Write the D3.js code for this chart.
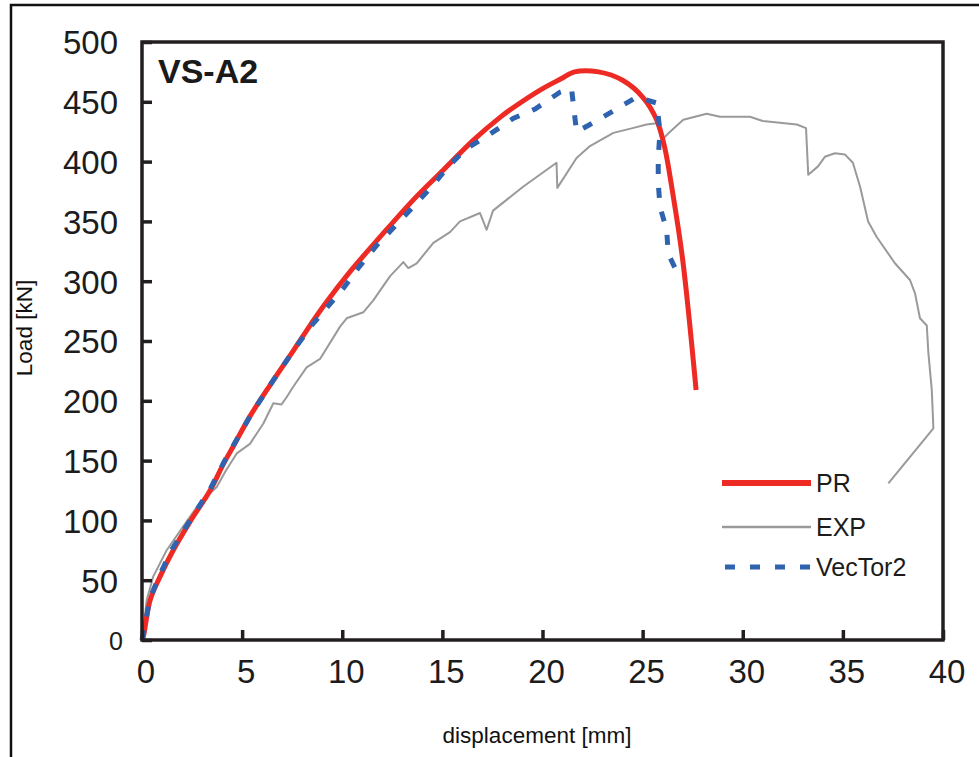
<!DOCTYPE html>
<html>
<head>
<meta charset="utf-8">
<script src="https://cdn.jsdelivr.net/npm/d3@7/dist/d3.min.js"></script>
<style>
  html, body { margin: 0; padding: 0; background: #fff; }
  svg { display: block; font-family: "Liberation Sans", Arial, sans-serif; }
</style>
</head>
<body>
<svg id="chart" width="979" height="757"></svg>
<script>
// ---- data ----
const prDisp = [0, 0.07, 0.4, 0.9, 1.56, 2.4, 3.4, 4.06, 4.56, 5.39, 6.39, 7.56, 8.47, 9.14, 10.39, 11.89, 13.55, 15.05, 16.55, 17.88, 18.53, 19.9, 20.9, 21.6, 22.8, 24.0, 25.0, 25.7, 26.1, 26.5, 27.0, 27.67];
const prLoad = [0, 3, 33, 53, 75, 99, 125, 147, 162, 187, 213, 242, 265, 281, 308, 337, 368, 393, 418, 437, 445, 460, 469, 475, 475, 468, 454, 435, 412, 374, 318, 209];

const expDisp = [0, 0.07, 0.23, 0.56, 1.23, 2.06, 2.73, 3.23, 3.73, 4.2, 4.73, 5.39, 6.06, 6.56, 6.97, 7.22, 7.56, 8.22, 8.89, 9.89, 10.22, 11.05, 11.55, 12.38, 13.05, 13.3, 13.72, 14.55, 15.38, 15.88, 16.88, 17.21, 17.53, 19.03, 20.7, 20.74, 21.7, 22.37, 23.54, 24.5, 25.2, 25.7, 25.95, 26.37, 27.03, 28.2, 28.86, 30.36, 31.0, 32.7, 33.16, 33.27, 33.76, 34.1, 34.6, 35.1, 35.5, 35.86, 36.26, 36.69, 37.6, 38.35, 38.6, 38.85, 39.19, 39.27, 39.44, 39.52, 37.27];
const expLoad = [0, 8, 33, 53, 75, 95, 111, 120, 128, 142, 156, 164, 181, 198, 197, 203, 212, 228, 235, 262, 269, 274, 284, 304, 316, 311, 315, 332, 341, 350, 357, 343, 359, 379, 399, 378, 403, 413, 424, 428, 431, 432, 418, 425, 435, 440, 437.5, 437.5, 434, 431, 428, 389, 396, 404, 407, 406, 399, 379, 350, 337, 315, 301, 290, 269, 263, 240, 209, 177, 131];

const vtDisp = [0, 0.1, 0.4, 0.9, 1.5, 2.4, 3.4, 4.1, 5.39, 6.39, 7.56, 8.47, 9.14, 10.05, 10.8, 11.72, 12.63, 13.47, 14.47, 15.3, 16.21, 17.29, 18.53, 19.63, 20.87, 21.45, 21.7, 22.37, 23.6, 24.7, 25.7, 25.87, 25.78, 25.78, 25.87, 26.2, 26.28, 26.87];
const vtLoad = [0, 8, 35, 55, 76, 100, 126, 149, 187, 213, 242, 263, 276, 294, 311, 330, 346, 361, 379, 396, 411, 422, 436, 444, 458, 461, 425, 431, 443, 454, 449, 425, 404, 382, 362, 343, 323, 302];

const xTicks = [0, 5, 10, 15, 20, 25, 30, 35, 40];
const yTicks = [0, 50, 100, 150, 200, 250, 300, 350, 400, 450, 500];
const seriesNames = ["PR", "EXP", "VecTor2"];
const chartTitle = "VS-A2";
const xTitle = "displacement [mm]";
const yTitle = "Load [kN]";

// ---- layout ----
const svg = d3.select("#chart");
const L = 142, R = 943, T = 42, B = 640;
const x = d3.scaleLinear().domain([0, 40]).range([L, R]);
const y = d3.scaleLinear().domain([0, 500]).range([B, T]);
const axisColor = "#231f20";
const textColor = "#1c1c1c";

// outer frame (clipped by the page at right/bottom)
svg.append("rect").attr("x", 11).attr("y", 5).attr("width", 1100).attr("height", 1100)
  .attr("fill", "none").attr("stroke", "#111").attr("stroke-width", 2.5);

// series
const colors = { PR: "#ee2a24", EXP: "#9a9a9a", VecTor2: "#2f63b0" };
const zip = (a, b) => a.map((v, i) => [v, b[i]]);
const line = d3.line().x(d => x(d[0])).y(d => y(d[1]));
const smooth = d3.line().x(d => x(d[0])).y(d => y(d[1])).curve(d3.curveCatmullRom.alpha(0.5));

svg.append("path").datum(zip(expDisp, expLoad)).attr("d", line)
  .attr("fill", "none").attr("stroke", colors.EXP).attr("stroke-width", 2).attr("stroke-linejoin", "round");
svg.append("path").datum(zip(prDisp, prLoad)).attr("d", smooth)
  .attr("fill", "none").attr("stroke", colors.PR).attr("stroke-width", 5).attr("stroke-linejoin", "round");
svg.append("path").datum(zip(vtDisp, vtLoad)).attr("d", line)
  .attr("fill", "none").attr("stroke", colors.VecTor2).attr("stroke-width", 5)
  .attr("stroke-dasharray", "10,14");

// axes
const gy = svg.append("g").attr("transform", `translate(${L},0)`)
  .call(d3.axisLeft(y).tickValues(yTicks).tickSize(-10).tickPadding(24));
gy.select(".domain").remove();
gy.selectAll(".tick line").attr("stroke", axisColor).attr("stroke-width", 3.5);
gy.selectAll(".tick text").attr("fill", textColor).attr("font-size", d => d === 0 ? 25 : 33)
  .attr("dy", "0.36em").attr("x", d => d === 0 ? -19 : -24);

const gx = svg.append("g").attr("transform", `translate(0,${B})`)
  .call(d3.axisBottom(x).tickValues(xTicks).tickSize(-10).tickPadding(20));
gx.select(".domain").remove();
gx.selectAll(".tick line").attr("stroke", axisColor).attr("stroke-width", 3.5);
gx.selectAll(".tick text").attr("fill", textColor).attr("font-size", 33).attr("x", 3.5);

// plot box
svg.append("rect").attr("x", L).attr("y", T).attr("width", R - L).attr("height", B - T)
  .attr("fill", "none").attr("stroke", axisColor).attr("stroke-width", 3.5);

// title
svg.append("text").attr("x", 158).attr("y", 83).attr("font-size", 34).attr("font-weight", "bold")
  .attr("fill", "#1a1a1a").text(chartTitle);

// axis titles
svg.append("text").attr("x", 537).attr("y", 743).attr("text-anchor", "middle")
  .attr("font-size", 22.5).attr("fill", "#111").text(xTitle);
svg.append("text").attr("transform", "translate(32,328) rotate(-90)").attr("text-anchor", "middle")
  .attr("font-size", 22.5).attr("fill", "#111").text(yTitle);

// legend
const legY = [483, 527, 567];
const legend = svg.append("g");
seriesNames.forEach((name, i) => {
  const ln = legend.append("line").attr("x1", name === "VecTor2" ? 725 : 722).attr("x2", 811)
    .attr("y1", legY[i]).attr("y2", legY[i]).attr("stroke", colors[name]);
  if (name === "PR") ln.attr("stroke-width", 6);
  if (name === "EXP") ln.attr("stroke-width", 2.5);
  if (name === "VecTor2") ln.attr("stroke-width", 5).attr("stroke-dasharray", "10,15");
  legend.append("text").attr("x", 816).attr("y", legY[i] + 9).attr("font-size", 25)
    .attr("fill", "#1c1c1c").text(name);
});
</script>
</body>
</html>
